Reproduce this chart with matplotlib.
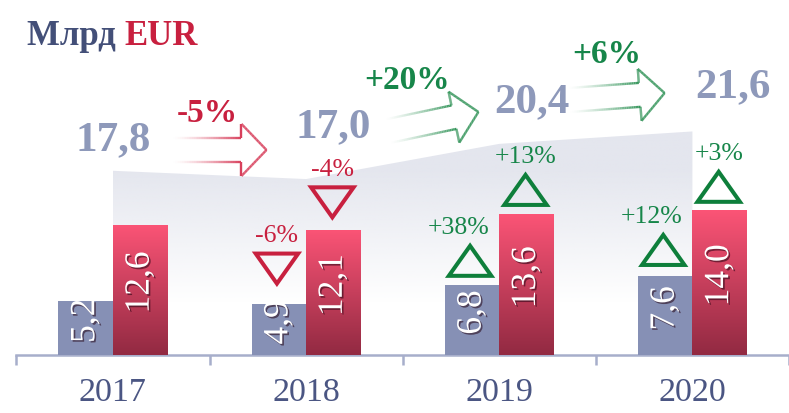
import matplotlib
matplotlib.use("Agg")
import matplotlib.pyplot as plt
import matplotlib.patheffects as pe
from matplotlib.collections import LineCollection
from matplotlib.patches import Polygon
from matplotlib.transforms import IdentityTransform
from matplotlib.colors import to_rgba
import numpy as np

years = ["2017", "2018", "2019", "2020"]
blue_vals = [5.2, 4.9, 6.8, 7.6]
red_vals = [12.6, 12.1, 13.6, 14.0]
totals = [17.8, 17.0, 20.4, 21.6]
total_change = ["-5%", "+20%", "+6%"]
blue_change = [None, "-6%", "+38%", "+12%"]
red_change = [None, "-4%", "+13%", "+3%"]

FONT = "Liberation Serif"
C_BLUE = "#8690b5"
C_TOTAL = "#8e99ba"
C_RED = "#c8203f"
C_GREEN = "#17864a"
C_TRI_GREEN = "#0e7f3b"
C_YEAR = "#4b5683"
C_TITLE = "#434f78"

def fmt(v):
  return ("%.1f" % v).replace(".", ",")

fig = plt.figure(figsize=(7.89, 4.13), dpi=100)
ax = fig.add_axes([0, 0, 1, 1])
ax.set_xlim(-0.5846, 3.4615)
ax.set_ylim(-5.604, 34.30)
for s in ["top", "right", "left"]:
  ax.spines[s].set_visible(False)
ax.spines["bottom"].set_position(("data", 0))
ax.spines["bottom"].set_bounds(-0.5, 3.5)
ax.spines["bottom"].set_color("#a7aecb")
ax.spines["bottom"].set_linewidth(1.8)
ax.set_yticks([])
x = np.arange(len(years))
ax.set_xticks(x)
ax.set_xticklabels(years, fontfamily=FONT, fontsize=24.5, color=C_YEAR)
ax.set_xticks(np.arange(-0.5, 3.6, 1), minor=True)
ax.tick_params(axis="x", which="major", length=0, pad=16)
ax.tick_params(axis="x", which="minor", length=7.5, width=1.8, color="#a7aecb", direction="out")

# shaded total area with vertical gradient
poly_pts = [(x[0], 0)] + list(zip(x, totals)) + [(x[-1], 0)]
area = Polygon(poly_pts, closed=True, facecolor="none", edgecolor="none")
ax.add_patch(area)
yy = np.linspace(0, 23, 200)
alpha = np.clip((yy - 5) / 13.0, 0, 1)
grad = np.zeros((len(yy), 2, 4))
grad[:, :, :3] = to_rgba("#e4e6ee")[:3]
grad[:, :, 3] = alpha[:, None]
im = ax.imshow(grad, extent=[x[0], x[-1], 0, 23], origin="lower", aspect="auto", zorder=1)
im.set_clip_path(area)

# bars
w = 0.282
ax.bar(x - w / 2, blue_vals, width=w, color=C_BLUE, zorder=3)
red_bars = ax.bar(x + w / 2, red_vals, width=w, color="#d8405f", zorder=3)
top_c = np.array(to_rgba("#fb5476"))
bot_c = np.array(to_rgba("#922a42"))
t = np.linspace(0, 1, 100)[:, None]
rg = (bot_c * (1 - t) + top_c * t)[:, None, :]
for b, v in zip(red_bars, red_vals):
  bx = b.get_x()
  gim = ax.imshow(rg, extent=[bx, bx + w, 0, v], origin="lower", aspect="auto", zorder=3.5)
  gim.set_clip_path(b)

shadow = [pe.SimplePatchShadow(offset=(1.2, -1.2), shadow_rgbFace="#200010", alpha=0.55), pe.Normal()]
for i in range(len(years)):
  ax.text(x[i] - w / 2, blue_vals[i] / 2 + 0.7, fmt(blue_vals[i]), rotation=90, ha="center", va="center",
          fontfamily=FONT, fontsize=25.5, color="white", zorder=5, path_effects=shadow)
  ax.text(x[i] + w / 2, red_vals[i] / 2 + 0.7, fmt(red_vals[i]), rotation=90, ha="center", va="center",
          fontfamily=FONT, fontsize=25.5, color="white", zorder=5, path_effects=shadow)

# totals
tot_dx = [0.0, 0.14, 0.17, 0.21]
tot_dy = [3.0, 5.0, 4.0, 4.3]
for i, v in enumerate(totals):
  ax.text(x[i] + tot_dx[i], v + tot_dy[i], fmt(v), ha="center", va="center", fontfamily=FONT,
          fontsize=31, fontweight="bold", color=C_TOTAL, zorder=6)

# triangles with changes
tri_w = 0.22
tri_h = 2.9
def triangle(cx, base, up, color, label, ldx):
  if up:
    pts = [(cx - tri_w / 2, base), (cx + tri_w / 2, base), (cx, base + tri_h)]
  else:
    pts = [(cx - tri_w / 2, base + tri_h), (cx + tri_w / 2, base + tri_h), (cx, base)]
  ax.add_patch(Polygon(pts, closed=True, fill=False, edgecolor=color, linewidth=2.9,
                       joinstyle="miter", zorder=6))
  ax.text(cx + ldx, base + tri_h + 1.7, label, ha="center", va="center", fontfamily=FONT,
          fontsize=18.5, color=color if not up else C_GREEN, zorder=6)

blue_gap = [0, 2.0, 0.85, 1.1]
red_gap = [0, 1.2, 0.9, 0.8]
for i in range(1, len(years)):
  up = blue_change[i].startswith("+")
  triangle(x[i] - w / 2 - 0.01, blue_vals[i] + blue_gap[i], up, C_TRI_GREEN if up else C_RED,
           blue_change[i], -0.06 if up else 0)
  up = red_change[i].startswith("+")
  triangle(x[i] + w / 2 - 0.005, red_vals[i] + red_gap[i], up, C_TRI_GREEN if up else C_RED,
           red_change[i], 0)

# fading outline arrows between totals
def draw_arrow(tail, tip, color, hl=25, sw=12, hw=26, n=40):
  p0 = ax.transData.transform(tail)
  p1 = ax.transData.transform(tip)
  d = p1 - p0
  L = np.hypot(*d)
  u = d / L
  nv = np.array([-u[1], u[0]])
  local = [(0, sw), (L - hl, sw), (L - hl, hw), (L, 0), (L - hl, -hw), (L - hl, -sw), (0, -sw)]
  segs, cols = [], []
  base = np.array(to_rgba(color))
  for (s0, t0), (s1, t1) in zip(local[:-1], local[1:]):
    ss = np.linspace(s0, s1, n + 1)
    tt = np.linspace(t0, t1, n + 1)
    pts = p0 + ss[:, None] * u + tt[:, None] * nv
    for k in range(n):
      segs.append([pts[k], pts[k + 1]])
      a = np.clip((ss[k] + ss[k + 1]) / 2 / (L - hl), 0, 1) ** 1.4
      c = base.copy()
      c[3] = a
      cols.append(c)
  lc = LineCollection(segs, colors=cols, linewidths=1.7, transform=IdentityTransform(), zorder=4)
  ax.add_collection(lc)

arrows = [((0.313, 19.81), (0.795, 19.81), "#d8405c"),
          ((1.426, 21.64), (1.892, 23.48), "#36965c"),
          ((2.364, 24.64), (2.856, 25.31), "#36965c")]
chg_pos = [(0.487, 23.38), (1.523, 26.57), (2.559, 29.08)]
for (tl, tp, c), lab, (lx, ly) in zip(arrows, total_change, chg_pos):
  draw_arrow(tl, tp, c)
  ax.text(lx, ly, lab, ha="center", va="center", fontfamily=FONT, fontsize=24, fontweight="bold",
          color=C_RED if lab.startswith("-") else C_GREEN, zorder=6)

# title
t1 = fig.text(27 / 789, 1 - 45 / 413, "Млрд ", fontfamily=FONT, fontsize=25, fontweight="bold",
              color=C_TITLE, va="baseline")
ax.annotate("EUR", xy=(1, 0), xycoords=t1, ha="left", va="bottom", fontfamily=FONT, fontsize=25,
            fontweight="bold", color=C_RED, annotation_clip=False)

fig.savefig("out.png", dpi=100)
